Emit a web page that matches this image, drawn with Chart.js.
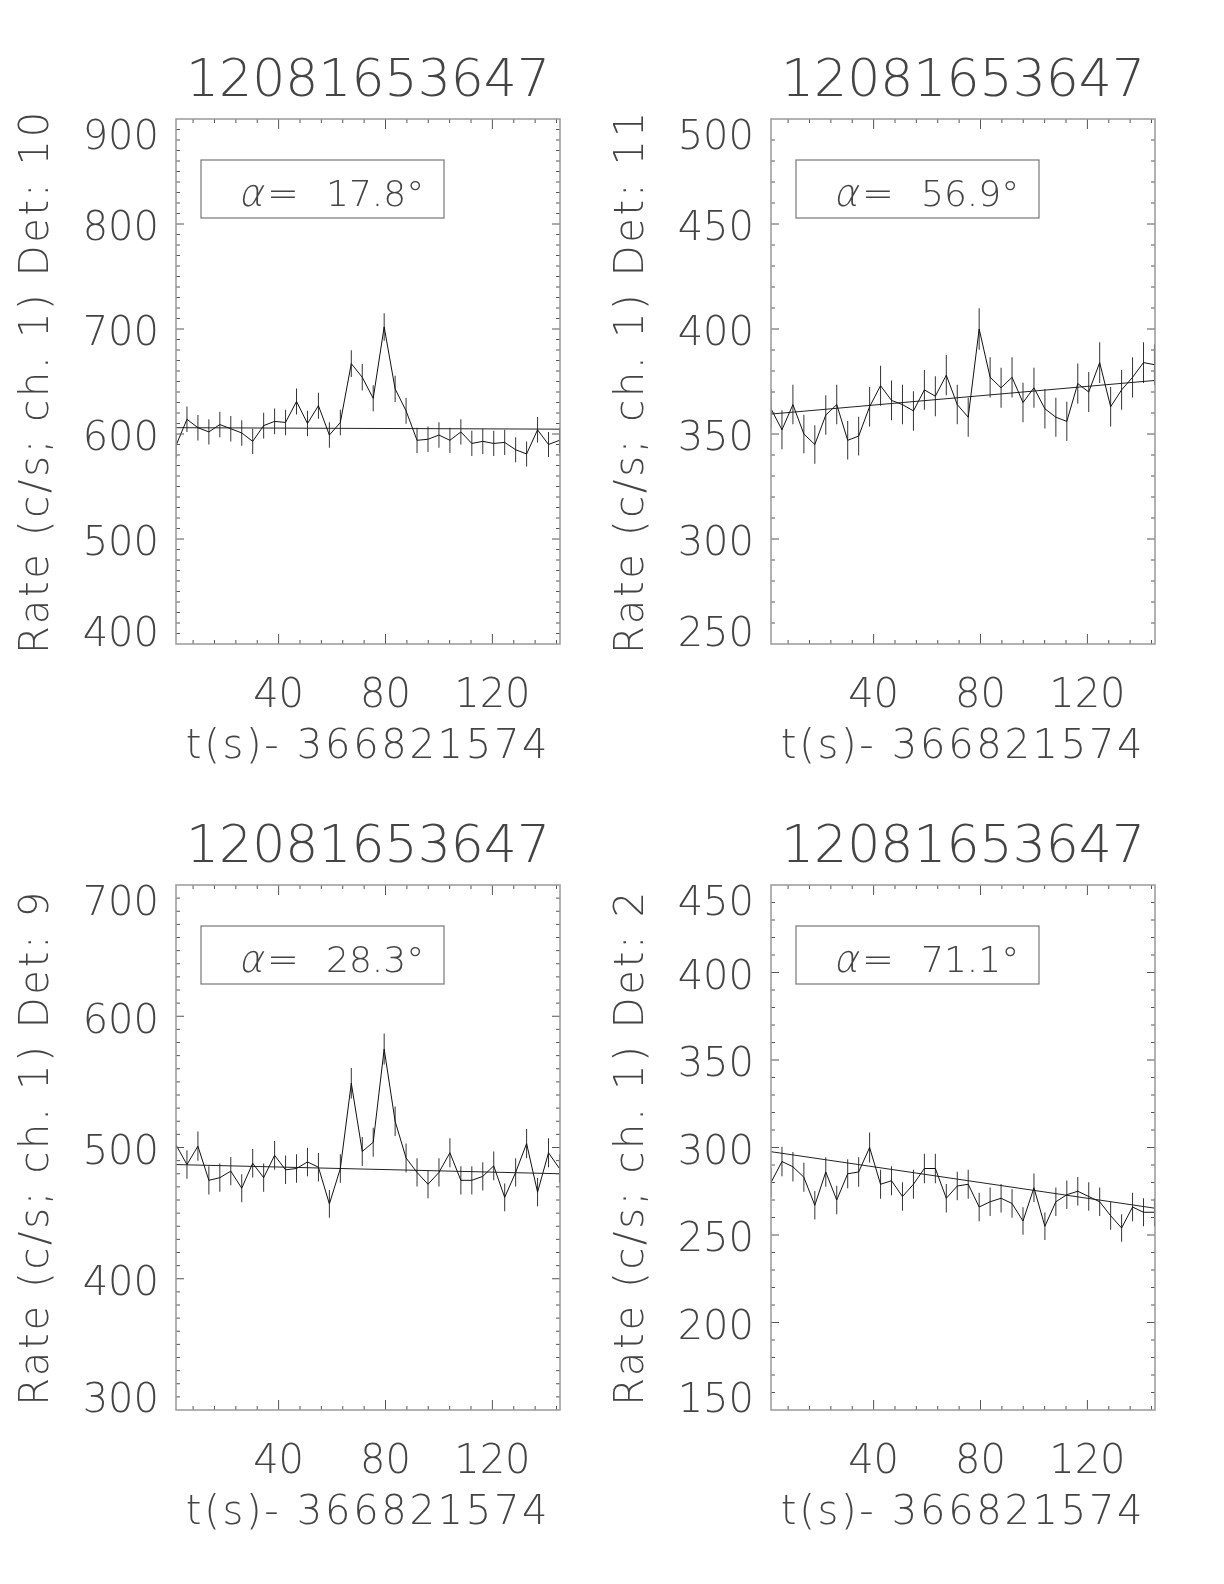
<!DOCTYPE html>
<html>
<head>
<meta charset="utf-8">
<title>12081653647 light curves</title>
<script src="https://cdn.jsdelivr.net/npm/chart.js"></script>
<style>
  body { margin: 0; background: #fff; width: 1224px; height: 1584px; position: relative; overflow: hidden; }
  canvas { position: absolute; }
</style>
</head>
<body>
<canvas id="c0" width="612" height="792" style="left:0;top:0"></canvas>
<canvas id="c1" width="612" height="792" style="left:595px;top:0"></canvas>
<canvas id="c2" width="612" height="792" style="left:0;top:766px"></canvas>
<canvas id="c3" width="612" height="792" style="left:595px;top:766px"></canvas>
<script>
const burst = '12081653647';
const xTitle = 't(s)- 366821574';
const X_MIN = 1.6, X_MAX = 145.3;

// bin centres (s after trigger offset)
const time = [1.6, 5.7, 9.8, 13.9, 18.0, 22.1, 26.2, 30.3, 34.4, 38.5, 42.6, 46.7, 50.8, 54.9, 59.0, 63.1, 67.2, 71.3,
              75.4, 79.5, 83.6, 87.7, 91.8, 95.9, 100.0, 104.1, 108.2, 112.3, 116.4, 120.5, 124.6, 128.7, 132.8, 136.9, 141.0, 145.1];
const fitTime = [1.6, 145.3];

// Det 10
const det10Rate = [589, 614, 606, 602, 609, 605, 601, 593, 608, 612, 611, 631, 610, 627, 599, 611, 667, 654,
                   634, 702, 643, 622, 594, 595, 599, 594, 602, 591, 593, 591, 592, 585, 581, 604, 590, 594];
const det10Err = [12.0, 12.2, 12.2, 12.1, 12.2, 12.2, 12.1, 12.0, 12.2, 12.2, 12.2, 12.4, 12.2, 12.4, 12.1, 12.2, 12.8, 12.6,
                  12.4, 13.1, 12.5, 12.3, 12.0, 12.1, 12.1, 12.0, 12.1, 12.0, 12.0, 12.0, 12.0, 12.0, 11.9, 12.1, 12.0, 12.0];
const det10Fit = [606, 604.6];

// Det 11
const det11Rate = [362, 352, 364, 350, 345, 359, 364, 347, 349, 363, 373, 366, 364, 361, 371, 368, 378, 364,
                   358, 400, 377, 372, 377, 365, 372, 362, 358, 356, 374, 370, 384, 363, 371, 377, 384, 383];
const det11Err = [9.4, 9.3, 9.4, 9.2, 9.2, 9.4, 9.4, 9.2, 9.2, 9.4, 9.5, 9.5, 9.4, 9.4, 9.5, 9.5, 9.6, 9.4,
                  9.3, 9.9, 9.6, 9.5, 9.6, 9.4, 9.5, 9.4, 9.3, 9.3, 9.6, 9.5, 9.7, 9.4, 9.5, 9.6, 9.7, 9.7];
const det11Fit = [359.5, 375.5];

// Det 9
const det9Rate = [502, 487, 501, 475, 477, 482, 469, 488, 477, 494, 483, 484, 489, 485, 457, 484, 549, 497,
                  504, 575, 520, 492, 481, 472, 481, 496, 475, 475, 478, 486, 462, 481, 503, 466, 496, 484];
const det9Err = [11.1, 10.9, 11.1, 10.8, 10.8, 10.8, 10.7, 10.9, 10.8, 11.0, 10.9, 10.9, 10.9, 10.9, 10.6, 10.9, 11.6, 11.0,
                 11.1, 11.8, 11.3, 11.0, 10.8, 10.7, 10.8, 11.0, 10.8, 10.8, 10.8, 10.9, 10.6, 10.8, 11.1, 10.7, 11.0, 10.9];
const det9Fit = [487, 480];

// Det 2
const det2Rate = [280, 292, 289, 283, 267, 286, 270, 285, 286, 300, 279, 281, 272, 279, 288, 288, 271, 278,
                  279, 266, 269, 271, 268, 258, 277, 255, 269, 273, 275, 272, 269, 261, 254, 266, 263, 263];
const det2Err = [8.3, 8.4, 8.4, 8.3, 8.1, 8.4, 8.1, 8.3, 8.4, 8.6, 8.3, 8.3, 8.1, 8.3, 8.4, 8.4, 8.1, 8.2,
                 8.3, 8.1, 8.1, 8.1, 8.1, 7.9, 8.2, 7.9, 8.1, 8.2, 8.2, 8.1, 8.1, 8.0, 7.9, 8.1, 8.0, 8.0];
const det2Fit = [297.6, 265.3];

const panels = [
    { id: 'c0', det: '10', rate: det10Rate, err: det10Err, fit: det10Fit, yMin: 400, yMax: 900, major: 100, alpha: '17.8' },
    { id: 'c1', det: '11', rate: det11Rate, err: det11Err, fit: det11Fit, yMin: 250, yMax: 500, major: 50, alpha: '56.9' },
    { id: 'c2', det: '9', rate: det9Rate, err: det9Err, fit: det9Fit, yMin: 300, yMax: 700, major: 100, alpha: '28.3' },
    { id: 'c3', det: '2', rate: det2Rate, err: det2Err, fit: det2Fit, yMin: 150, yMax: 450, major: 50, alpha: '71.1' }
];

const FAMILY = "'DejaVu Sans', 'Noto Sans', sans-serif";
const INK = '#444';
const font = (size, lh) => ({ family: FAMILY, size: size, weight: '200', lineHeight: lh || 1.2 });

// inward ticks on all four sides, the frame, and the angle label box
const frame = {
    id: 'frame',
    beforeDraw(chart) {
        chart.ctx.letterSpacing = '0px';
    },
    afterDatasetsDraw(chart, args, opts) {
        const { ctx, chartArea: a, scales: { x, y } } = chart;
        ctx.save();
        ctx.strokeStyle = '#555';
        ctx.lineWidth = 1;
        ctx.beginPath();
        x.ticks.forEach(t => {
            if (t.value <= x.min || t.value >= x.max) return;
            const px = x.getPixelForValue(t.value);
            const len = t.value % 40 === 0 ? 10 : 4;
            ctx.moveTo(px, a.bottom); ctx.lineTo(px, a.bottom - len);
            ctx.moveTo(px, a.top); ctx.lineTo(px, a.top + len);
        });
        y.ticks.forEach(t => {
            if (t.value <= y.min || t.value >= y.max) return;
            const py = y.getPixelForValue(t.value);
            const len = t.value % opts.major === 0 ? 8 : 4;
            ctx.moveTo(a.left, py); ctx.lineTo(a.left + len, py);
            ctx.moveTo(a.right, py); ctx.lineTo(a.right - len, py);
        });
        ctx.stroke();

        ctx.strokeStyle = '#999';
        ctx.lineWidth = 1.5;
        ctx.strokeRect(a.left, a.top, a.right - a.left, a.bottom - a.top);

        // alpha label
        const bx = a.left + 25, by = a.top + 41;
        ctx.strokeStyle = '#777';
        ctx.lineWidth = 1.2;
        ctx.strokeRect(bx, by, 243, 58);
        ctx.fillStyle = INK;
        ctx.textBaseline = 'alphabetic';
        ctx.font = '200 38px ' + FAMILY;
        ctx.save();
        ctx.translate(a.left + 62, a.top + 87);
        ctx.transform(1, 0, -0.22, 1, 0, 0);
        ctx.fillText('\u03b1', 0, 0);
        ctx.restore();
        ctx.fillText('=', a.left + 91, a.top + 87);
        ctx.font = '200 36px ' + FAMILY;
        ctx.fillText(opts.alpha + '\u00b0', a.left + 150, a.top + 87);
        ctx.restore();
        // axis titles are drawn after this, a little wider spaced
        ctx.letterSpacing = '2.7px';
    },
    afterDraw(chart) {
        chart.ctx.letterSpacing = '0px';
    }
};

panels.forEach(p => {
    new Chart(document.getElementById(p.id), {
        data: {
            datasets: [
                {
                    type: 'line',
                    data: time.map((t, i) => ({ x: t, y: p.rate[i] })),
                    borderColor: '#111',
                    borderWidth: 1,
                    pointRadius: 0,
                    tension: 0
                },
                {
                    type: 'line',
                    data: fitTime.map((t, i) => ({ x: t, y: p.fit[i] })),
                    borderColor: '#222',
                    borderWidth: 1,
                    pointRadius: 0
                },
                {
                    type: 'bar',
                    data: time.map((t, i) => ({ x: t, y: [p.rate[i] - p.err[i], p.rate[i] + p.err[i]] })),
                    backgroundColor: '#333',
                    borderWidth: 0,
                    barThickness: 1,
                    inflateAmount: 0
                }
            ]
        },
        options: {
            responsive: false,
            animation: false,
            events: [],
            layout: { padding: { left: 0, right: 52, top: 0, bottom: 0 }, autoPadding: false },
            plugins: {
                legend: { display: false },
                tooltip: { enabled: false },
                title: {
                    display: true, text: burst, fullSize: false, color: INK,
                    font: font(52), padding: { top: 51, bottom: 5.6 }
                },
                frame: { major: p.major, alpha: p.alpha }
            },
            scales: {
                x: {
                    type: 'linear', min: X_MIN, max: X_MAX, offset: false,
                    grid: { display: false, drawTicks: false, z: 1 },
                    border: { display: false },
                    ticks: {
                        stepSize: 8, autoSkip: false, includeBounds: false, maxRotation: 0,
                        padding: 29, color: INK, font: font(40),
                        callback: v => (v >= 40 && v % 40 === 0) ? String(v) : ''
                    },
                    title: { display: true, text: xTitle, color: INK, font: font(40), padding: { top: 0, bottom: 20 } },
                    afterFit: s => { s.height = 148; }
                },
                y: {
                    type: 'linear', min: p.yMin, max: p.yMax,
                    grid: { display: false, drawTicks: false, z: 1 },
                    border: { display: false },
                    ticks: {
                        stepSize: 10, autoSkip: false, padding: 17, labelOffset: 6, color: INK, font: font(40, 0.7),
                        callback: v => {
                            if (v % p.major !== 0) return '';
                            if (v === p.yMax) return ['', String(v)];
                            if (v === p.yMin) return [String(v), ''];
                            return String(v);
                        }
                    },
                    title: { display: true, text: 'Rate (c/s; ch. 1) Det: ' + p.det, color: INK, font: font(40), padding: { top: 14, bottom: 0 } },
                    afterFit: s => { s.width = 176; }
                }
            }
        },
        plugins: [frame]
    });
});
</script>
</body>
</html>
